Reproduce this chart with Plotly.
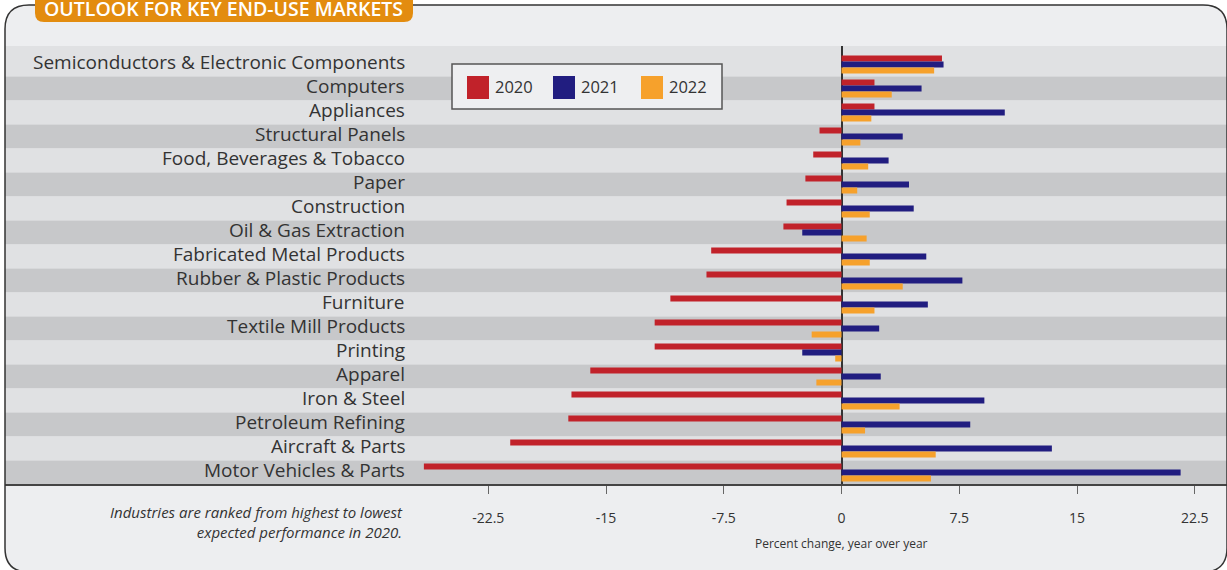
import plotly.graph_objects as go

# Industries, ranked by expected 2020 performance
industries = [
    "Semiconductors & Electronic Components",
    "Computers",
    "Appliances",
    "Structural Panels",
    "Food, Beverages & Tobacco",
    "Paper",
    "Construction",
    "Oil & Gas Extraction",
    "Fabricated Metal Products",
    "Rubber & Plastic Products",
    "Furniture",
    "Textile Mill Products",
    "Printing",
    "Apparel",
    "Iron & Steel",
    "Petroleum Refining",
    "Aircraft & Parts",
    "Motor Vehicles & Parts",
]

# Percent change, year over year
chg_2020 = [6.4, 2.1, 2.1, -1.4, -1.8, -2.3, -3.5, -3.7, -8.3, -8.6,
            -10.9, -11.9, -11.9, -16.0, -17.2, -17.4, -21.1, -26.6]
chg_2021 = [6.5, 5.1, 10.4, 3.9, 3.0, 4.3, 4.6, -2.5, 5.4, 7.7,
            5.5, 2.4, -2.5, 2.5, 9.1, 8.2, 13.4, 21.6]
chg_2022 = [5.9, 3.2, 1.9, 1.2, 1.7, 1.0, 1.8, 1.6, 1.8, 3.9,
            2.1, -1.9, -0.4, -1.6, 3.7, 1.5, 6.0, 5.7]

years = ["2020", "2021", "2022"]
tick_vals = [-22.5, -15, -7.5, 0, 7.5, 15, 22.5]
tick_text = ["-22.5", "-15", "-7.5", "0", "7.5", "15", "22.5"]

title_text = "OUTLOOK FOR KEY END-USE MARKETS"
note_text = "Industries are ranked from highest to lowest<br>expected performance in 2020."
axis_text = "Percent change, year over year"

COLORS = ["#c1222a", "#211d80", "#f6a12c"]
FONT = "Open Sans"
TEXT = "#333333"

W, H = 1227, 570
ML, MR, MT, MB = 5, 0, 46, 86
PW, PH = W - ML - MR, H - MT - MB


def px(x):
    return (x - ML) / PW


def py(y):
    return (H - MB - y) / PH


fig = go.Figure()
for name, vals, col in zip(years, [chg_2020, chg_2021, chg_2022], COLORS):
    fig.add_trace(go.Bar(
        y=industries, x=vals, name=name, orientation="h",
        marker=dict(color=col, line=dict(width=0)),
        showlegend=False,
    ))

shapes = []


def rounded_path(x0, y0, x1, y1, r):
    pts = [
        f"M{px(x0)},{py(y0 + r)}",
        f"Q{px(x0)},{py(y0)} {px(x0 + r)},{py(y0)}",
        f"L{px(x1 - r)},{py(y0)}",
        f"Q{px(x1)},{py(y0)} {px(x1)},{py(y0 + r)}",
        f"L{px(x1)},{py(y1 - r)}",
        f"Q{px(x1)},{py(y1)} {px(x1 - r)},{py(y1)}",
        f"L{px(x0 + r)},{py(y1)}",
        f"Q{px(x0)},{py(y1)} {px(x0)},{py(y1 - r)}",
        "Z",
    ]
    return " ".join(pts)


# panel frame: rounded rectangle fill behind everything
frame = rounded_path(5, 5, 1227, 572, 24)
shapes.append(dict(type="path", path=frame, xref="paper", yref="paper",
                   fillcolor="#edeef0", line=dict(width=0), layer="below"))

# alternating row stripes
n = len(industries)
for i in range(n):
    y0 = i - 0.5 if i > 0 else -0.771
    shapes.append(dict(
        type="rect", xref="paper", yref="y", x0=0, x1=1,
        y0=y0, y1=i + 0.5,
        fillcolor="#e0e1e3" if i % 2 == 0 else "#c7c8ca",
        line=dict(width=0), layer="below",
    ))

# frame outline
shapes.append(dict(type="path", path=frame, xref="paper", yref="paper",
                   line=dict(color="#333333", width=1.5), layer="above"))

# title tab
tab = " ".join([
    f"M{px(35)},{py(-10)}",
    f"L{px(35)},{py(13)}",
    f"Q{px(35)},{py(22)} {px(44)},{py(22)}",
    f"L{px(404)},{py(22)}",
    f"Q{px(413)},{py(22)} {px(413)},{py(13)}",
    f"L{px(413)},{py(-10)}",
    "Z",
])
shapes.append(dict(type="path", path=tab, xref="paper", yref="paper",
                   fillcolor="#e38c0f", line=dict(width=0), layer="above"))

# legend box
shapes.append(dict(type="rect", xref="paper", yref="paper",
                   x0=px(452), x1=px(722), y0=py(64), y1=py(109),
                   fillcolor="#eeeff1", line=dict(color="#555555", width=1.5),
                   layer="above"))

annotations = []
leg_x = [467, 553, 641]
for name, col, lx in zip(years, COLORS, leg_x):
    shapes.append(dict(type="rect", xref="paper", yref="paper",
                       x0=px(lx), x1=px(lx + 22), y0=py(76), y1=py(99),
                       fillcolor=col, line=dict(width=0), layer="above"))
    annotations.append(dict(
        text=name, xref="paper", yref="paper", x=px(lx + 26), y=py(87),
        xanchor="left", yanchor="middle", showarrow=False,
        font=dict(family=FONT, size=16.5, color=TEXT),
    ))

# category labels
for name in industries:
    annotations.append(dict(
        text=name, xref="paper", yref="y", x=px(407), y=name,
        xanchor="right", yanchor="middle", showarrow=False, yshift=3,
        font=dict(family=FONT, size=19, color=TEXT),
    ))

annotations.append(dict(
    text=title_text, xref="paper", yref="paper", x=px(224), y=py(8.5),
    xanchor="center", yanchor="middle", showarrow=False,
    font=dict(family=FONT, size=19.5, color="white", weight=600),
))
annotations.append(dict(
    text=note_text, xref="paper", yref="paper", x=px(405), y=py(522),
    xanchor="right", yanchor="middle", align="right", showarrow=False,
    font=dict(family=FONT, size=15, color=TEXT, style="italic"),
))
annotations.append(dict(
    text=axis_text, xref="x", yref="paper", x=0, y=py(543),
    xanchor="center", yanchor="middle", showarrow=False,
    font=dict(family=FONT, size=12, color=TEXT),
))

x_lo = (ML - 841.5) / 15.7
x_hi = (W - MR - 841.5) / 15.7

fig.update_layout(
    width=W, height=H,
    margin=dict(l=ML, r=MR, t=MT, b=MB),
    paper_bgcolor="white",
    plot_bgcolor="#edeef0",
    barmode="group",
    bargap=0.25,
    bargroupgap=0,
    showlegend=False,
    shapes=shapes,
    annotations=annotations,
    xaxis=dict(
        range=[x_lo, x_hi],
        tickvals=tick_vals, ticktext=tick_text,
        showgrid=False,
        zeroline=True, zerolinecolor="#333333", zerolinewidth=1.5,
        showline=True, linecolor="#444444", linewidth=2,
        ticks="outside", ticklen=8, tickcolor="#666666", tickwidth=1,
        ticklabelstandoff=12,
        tickfont=dict(family=FONT, size=14, color=TEXT),
        fixedrange=True,
    ),
    yaxis=dict(
        range=[17.479, -0.771],
        showticklabels=False, showgrid=False, zeroline=False,
        showline=False, ticks="",
        fixedrange=True,
    ),
)

fig.write_html("out.html")
